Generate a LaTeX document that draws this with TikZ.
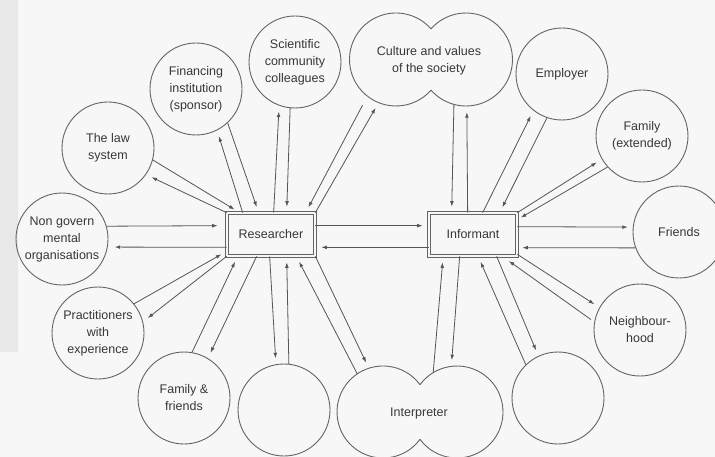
\documentclass[tikz,border=0pt]{standalone}
\usepackage{fontspec}
\setmainfont{Liberation Sans}
\usetikzlibrary{arrows.meta,calc}
\definecolor{linec}{RGB}{100,100,100}
\definecolor{arrc}{RGB}{85,85,85}
\definecolor{textc}{RGB}{55,55,55}
\definecolor{bgc}{RGB}{247,247,247}
\definecolor{stripc}{RGB}{232,232,232}
\begin{document}
\begin{tikzpicture}[x=1pt,y=-1pt,
  txtfont/.style={font=\fontsize{12.5}{17}\selectfont},
  circ/.style={circle,draw=linec,line width=0.9pt,minimum size=92pt,inner sep=0pt,align=center,txtfont,text=textc},
  lobe/.style={circle,minimum size=#1,inner sep=0pt},
  outl/.style={draw=linec,line width=0.9pt},
  lbl/.style={align=center,txtfont,text=textc,inner sep=0pt},
  box/.style={draw=linec,line width=0.7pt,double=bgc,double distance=2.3pt,minimum width=88pt,minimum height=43pt,inner sep=0pt,txtfont,text=textc},
  arr/.style={draw=arrc,line width=0.8pt,-{Latex[length=5.5pt,width=3.8pt]},shorten >=6pt}
]
\fill[bgc] (0,0) rectangle (715,457);
\fill[stripc] (0,0) rectangle (18,352);
\clip (0,0) rectangle (715,457);
\useasboundingbox (0,0) rectangle (715,457);

% boxes
\node[box] (res) at (271,234.5) {Researcher};
\node[box] (inf) at (473,234.5) {Informant};

% circles
\node[circ] (law) at (108,148) {The law\\system};
\node[circ] (fin) at (196,89) {Financing\\institution\\(sponsor)};
\node[circ] (sci) at (295,62) {Scientific\\community\\colleagues};
\node[circ] (emp) at (562,74) {Employer};
\node[circ] (fam) at (642,136) {Family\\(extended)};
\node[circ] (fri) at (679,232) {Friends};
\node[circ] (nei) at (640,330) {Neighbour-\\hood};
\node[circ] (ebr) at (558,398) {};
\node[circ] (ebl) at (284,410) {};
\node[circ] (ff) at (184,398) {Family \&\\friends};
\node[circ] (pra) at (98,333) {Practitioners\\with\\experience};
\node[circ] (ngo) at (62,239) {Non govern\\mental\\organisations};

% culture (double circle)
\node[lobe=93pt] (culL) at (396,59.5) {};
\node[lobe=93pt] (culR) at (466,59.5) {};
\node[lbl] (cult) at (429,61) {Culture and values\\of the society};
\draw[outl] (culL) ++(41.2:46.5) arc[start angle=41.2,end angle=318.8,radius=46.5];
\draw[outl] (culR) ++(-138.8:46.5) arc[start angle=-138.8,end angle=138.8,radius=46.5];

% interpreter (double circle)
\node[lobe=92pt] (intL) at (383,412) {};
\node[lobe=92pt] (intR) at (457,412) {};
\node[lbl] (intt) at (419,413) {Interpreter};
\draw[outl] (intL) ++(36.5:46) arc[start angle=36.5,end angle=323.5,radius=46];
\draw[outl] (intR) ++(-143.5:46) arc[start angle=-143.5,end angle=143.5,radius=46];

% researcher connectors
\draw[arr,shorten >=9pt] (ngo.16) -- ($(res.north west)+(0,13)$);
\draw[arr,shorten >=7pt] ($(res.south west)+(0,-9)$) -- (ngo.-10);
\draw[arr] (law.-15) -- ($(res.north west)+(13,0)$);
\draw[arr] (res.north west) -- (law.-35);
\draw[arr] (fin.-47) -- ($(res.north west)+(32,0)$);
\draw[arr] ($(res.north west)+(16,0)$) -- (fin.-63);
\draw[arr] ($(res.north west)+(47,0)$) -- (sci.-110);
\draw[arr] (sci.-96) -- ($(res.north west)+(60,0)$);
\draw[arr,shorten <=10pt] (culL.-128) -- ($(res.north west)+(79,0)$);
\draw[arr] (res.north east) -- (culL.-112);
\draw[arr] (res.south east) -- (intL.108);
\draw[arr] (intL.124) -- ($(res.south east)+(-19,0)$);
\draw[arr] ($(res.south west)+(43,0)$) -- (ebl.100);
\draw[arr] (ebl.84) -- ($(res.south west)+(60,0)$);
\draw[arr] (ff.80) -- ($(res.south west)+(11,0)$);
\draw[arr] ($(res.south west)+(30,0)$) -- (ff.59);
\draw[arr] (pra.39) -- ($(res.south west)+(0,-5)$);
\draw[arr] (res.south west) -- (pra.14);

% researcher <-> informant
\draw[arr] ($(res.north east)+(0,13)$) -- ($(inf.north west)+(0,13)$);
\draw[arr] ($(inf.south west)+(0,-9)$) -- ($(res.south east)+(0,-9)$);

% informant connectors
\draw[arr] (culR.-105) -- ($(inf.north west)+(23,0)$);
\draw[arr] ($(inf.north west)+(39,0)$) -- (culR.-89);
\draw[arr] ($(inf.north west)+(54,0)$) -- (emp.-128);
\draw[arr] (emp.-109) -- ($(inf.north west)+(71,0)$);
\draw[arr] (inf.north east) -- (fam.-150);
\draw[arr,shorten >=4pt] (fam.-138) -- ($(inf.north east)+(0,7)$);
\draw[arr,shorten >=5pt] ($(inf.north east)+(0,14)$) -- (fri.174);
\draw[arr,shorten >=5pt] (fri.-160) -- ($(inf.north east)+(0,35)$);
\draw[arr] ($(inf.south east)+(0,-2)$) -- (nei.151);
\draw[arr,shorten <=4pt,shorten >=8pt] (nei.170) -- ($(inf.south east)+(-15,0)$);
\draw[arr] ($(inf.south west)+(68,0)$) -- (ebr.115);
\draw[arr] (ebr.134) -- ($(inf.south west)+(49.5,0)$);
\draw[arr] (intR.121) -- ($(inf.south west)+(14.5,0)$);
\draw[arr] ($(inf.south west)+(31,0)$) -- (intR.97);
\end{tikzpicture}
\end{document}
